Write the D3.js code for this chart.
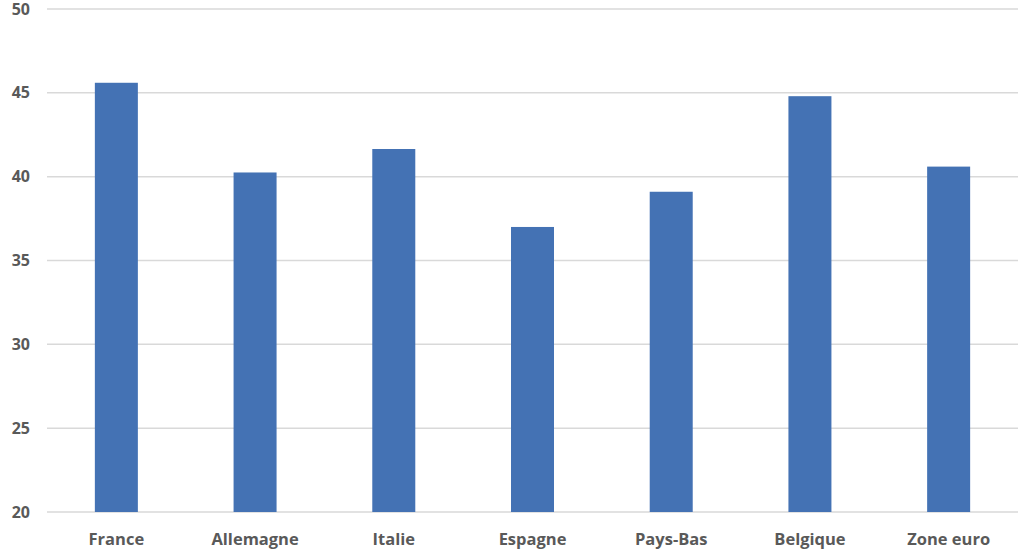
<!DOCTYPE html>
<html>
<head>
<meta charset="utf-8">
<script src="https://cdn.jsdelivr.net/npm/d3@7"></script>
<style>
  body { margin: 0; background: #fff; }
  svg { display: block; }
</style>
</head>
<body>
<script>
const pays = ["France", "Allemagne", "Italie", "Espagne", "Pays-Bas", "Belgique", "Zone euro"];
const valeurs = [45.6, 40.25, 41.65, 37.0, 39.1, 44.8, 40.6];
const ticks = [20, 25, 30, 35, 40, 45, 50];

const w = 1024;
const h = 551;
const gauche = 47, droite = 1018, haut = 9, bas = 512;

const svg = d3.select("body")
  .append("svg")
  .attr("width", w)
  .attr("height", h);

const xScale = d3.scaleBand()
  .domain(pays)
  .range([gauche, droite])
  .paddingInner(0.69)
  .paddingOuter(0.345);

const yScale = d3.scaleLinear()
  .domain([20, 50])
  .range([bas, haut]);

// grille
svg.append("g")
  .selectAll("line")
  .data(ticks)
  .enter()
  .append("line")
  .attr("x1", gauche)
  .attr("x2", droite)
  .attr("y1", d => yScale(d))
  .attr("y2", d => yScale(d))
  .attr("stroke", "#d9d9d9")
  .attr("stroke-width", 1.5);

// barres
svg.append("g")
  .selectAll("rect")
  .data(valeurs)
  .enter()
  .append("rect")
  .attr("x", (d, i) => xScale(pays[i]))
  .attr("y", d => yScale(d))
  .attr("width", xScale.bandwidth())
  .attr("height", d => yScale(20) - yScale(d))
  .attr("fill", "#4472b4");

// axe y
const yAxis = d3.axisLeft(yScale).tickValues(ticks).tickSize(0).tickPadding(0);
const gy = svg.append("g")
  .attr("transform", "translate(30,0)")
  .call(yAxis);
gy.select(".domain").remove();
gy.selectAll("text")
  .attr("font-family", "'Open Sans', sans-serif")
  .attr("font-weight", "bold")
  .attr("font-size", 16)
  .attr("fill", "#595959");

// axe x
const xAxis = d3.axisBottom(xScale).tickSize(0).tickPadding(0);
const gx = svg.append("g")
  .attr("transform", "translate(0,533)")
  .call(xAxis);
gx.select(".domain").remove();
gx.selectAll("text")
  .attr("font-family", "'Open Sans', sans-serif")
  .attr("font-weight", "bold")
  .attr("font-size", 16.5)
  .attr("fill", "#595959");
</script>
</body>
</html>
